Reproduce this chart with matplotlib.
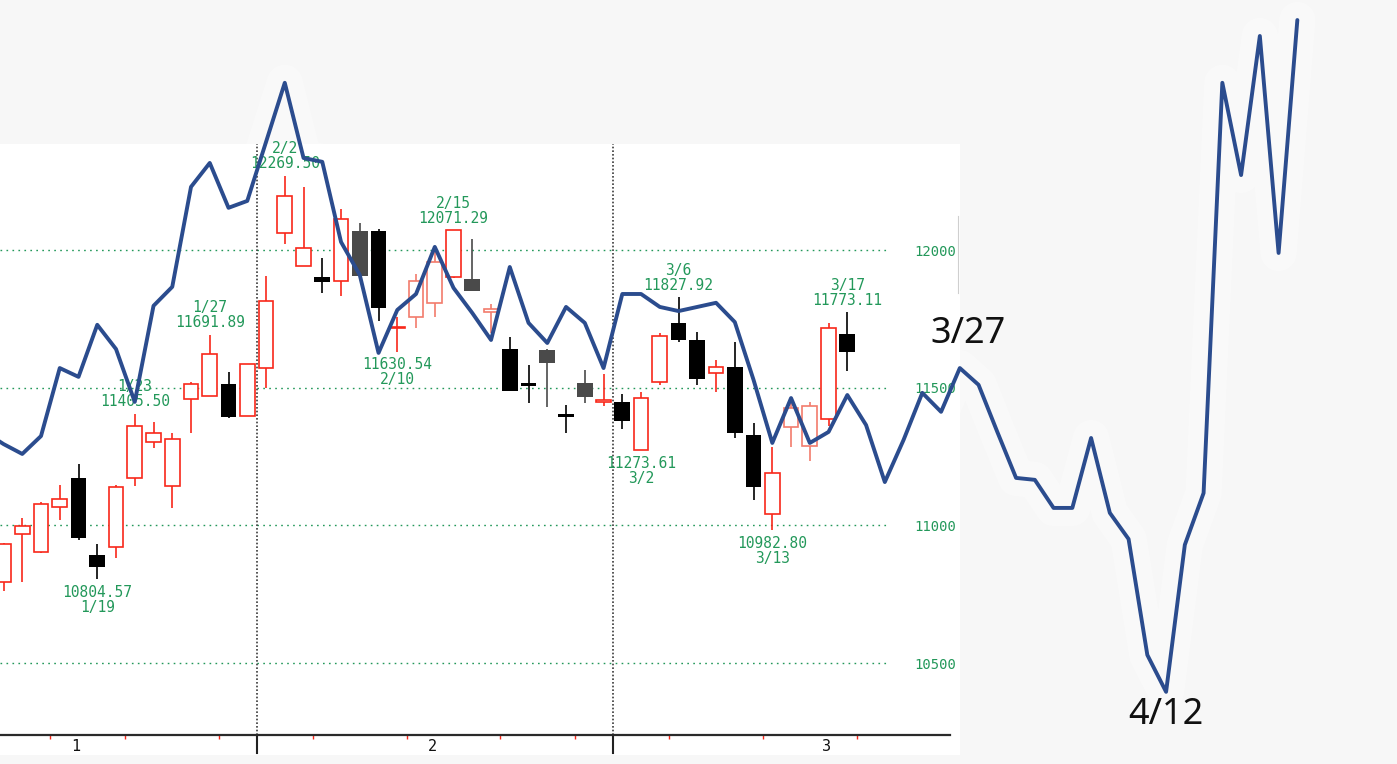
#!/usr/bin/env python

import matplotlib
matplotlib.use('Agg')
import matplotlib.pyplot as plt
from matplotlib.patches import Rectangle
from matplotlib.lines import Line2D
import numpy as np
import pandas as pd

# trading days shown on the candle chart (1/16 and 2/20 are market holidays)
dates = pd.bdate_range('2006-01-11', '2006-03-17').drop(
    pd.to_datetime(['2006-01-16', '2006-02-20']))

opens = [10794, 10968, 10903, 11067, 11172, 10892, 10921, 11172, 11303, 11143,
         11459, 11470, 11513, 11397, 11571, 12062, 11942, 11902, 11887, 12069,
         12069, 11717, 11757, 11808, 11902, 11895, 11775, 11640, 11517, 11637,
         11404, 11517, 11448, 11448, 11273.61, 11521, 11735, 11673, 11553, 11575,
         11328, 11041, 11357, 11288, 11386, 11695]
highs = [10935, 11027, 11085, 11146, 11223, 10932, 11146, 11405.50, 11375, 11335,
         11521, 11691.89, 11557, 11586, 11906, 12269.50, 12229, 11971, 12149, 12098,
         12076, 11757, 11913, 12000, 12071.29, 12040, 11804, 11684, 11582, 11640,
         11437, 11564, 11550, 11477, 11484, 11699, 11827.92, 11702, 11600, 11666,
         11372, 11284, 11466, 11448, 11735, 11773.11]
lows = [10761, 10794, 10899, 11019, 10947, 10804.57, 10881, 11143, 11281, 11063,
        11335, 11470, 11390, 11397, 11499, 12022, 11942, 11844, 11833, 11906,
        11742, 11630.54, 11717, 11757, 11898, 11851, 11699, 11488, 11444, 11430,
        11335, 11444, 11433, 11350, 11273.61, 11510, 11666, 11510, 11484, 11317,
        11092, 10982.80, 11284, 11234, 11361, 11561]
closes = [10932, 10998, 11077, 11096, 10954, 10849, 11139, 11361, 11335, 11314,
          11513, 11622, 11393, 11586, 11815, 12196, 12007, 11884, 12113, 11906,
          11789, 11720, 11887, 11956, 12071, 11851, 11786, 11488, 11506, 11590,
          11393, 11466, 11455, 11379, 11462, 11688, 11673, 11531, 11575, 11335,
          11139, 11190, 11426, 11433, 11717, 11630]

# hand drawn line, one point per trading day, starting one day before dates[0]
line_vals = [11339, 11295, 11259, 11324, 11571, 11539, 11728, 11640, 11448, 11797, 11866,
             12229, 12316, 12153, 12178, 12392, 12607, 12334, 12320, 12029, 11909,
             11626, 11782, 11840, 12011, 11862, 11771, 11673, 11938, 11735, 11662,
             11793, 11735, 11571, 11840, 11840, 11793, 11778, 11793, 11808, 11738,
             11528, 11299, 11462, 11299, 11339, 11473, 11364, 11157, 11310, 11481,
             11412, 11571, 11510, 11339, 11172, 11165, 11063, 11063, 11317, 11045,
             10950, 10529, 10395, 10929, 11117, 12607, 12272, 12777, 11989, 12835]

high_marks = [7, 11, 15, 24, 36, 45]
low_marks = [5, 21, 34, 41]
month_labels = ['1', '2', '3']
y_ticks = [10500, 11000, 11500, 12000]
forecast_days = [51, 62]
forecast_labels = ['3/27', '4/12']

GREEN = '#23985a'
RED = '#f8281a'
BLUE = '#2b4c8e'

# screenshot geometry
W, H = 1397, 764
X0, DX = 3.5, 18.75       # px of first candle, px per trading day
Y0, DY = 250.0, 0.2753    # px of the 12000 line, px per point


def px_x(px):
    return (px - X0) / DX


def px_y(py):
    return 12000 - (py - Y0) / DY


def frect(left, top, right, bottom):
    return [left / W, 1 - bottom / H, (right - left) / W, (bottom - top) / H]


fig = plt.figure(figsize=(13.971, 7.641), dpi=100)
fig.patch.set_facecolor('#f7f7f7')

idx = np.arange(len(opens))
line_idx = np.arange(-1, len(line_vals) - 1)

# faint smudge around the drawn line
hax = fig.add_axes([0, 0, 1, 1], zorder=0)
hax.patch.set_visible(False)
hax.axis('off')
hax.set_xlim(px_x(0), px_x(W))
hax.set_ylim(px_y(H), px_y(0))
hax.plot(line_idx, line_vals, color='white', lw=26, alpha=0.3,
         solid_capstyle='round', solid_joinstyle='round')

# white chart panel
fig.add_artist(Rectangle((0, 1 - 755 / H), 960 / W, (755 - 144) / H,
                         transform=fig.transFigure, facecolor='white',
                         edgecolor='none', zorder=1))
fig.add_artist(Line2D([958 / W] * 2, [1 - 216 / H, 1 - 293 / H],
                      color='#cfcfcf', lw=0.8, zorder=1))

ax = fig.add_axes(frect(0, 144, 960, 735), zorder=2)
ax.patch.set_visible(False)
ax.set_xlim(px_x(0), px_x(960))
ax.set_ylim(px_y(735), px_y(144))

ax.hlines(y_ticks, px_x(0), px_x(886), colors=GREEN, linewidth=1,
          linestyles=(0, (1.2, 3.1)), zorder=1)

faded = {22, 23, 26, 42, 43}
greyish = {19, 25, 29, 31}
for i in idx:
    o, h, l, c = opens[i], highs[i], lows[i], closes[i]
    if c >= o:
        col = '#f27c6c' if i in faded else RED
        ax.vlines(i, l, h, color=col, lw=1.2, zorder=2)
        ax.bar(i, max(c - o, 1), bottom=o, width=0.78, facecolor='white',
               edgecolor=col, linewidth=1.2, zorder=3)
    else:
        col = '#4a4a4a' if i in greyish else 'black'
        ax.vlines(i, l, h, color=col, lw=1.2, zorder=2)
        ax.bar(i, o - c, bottom=c, width=0.84, color=col, zorder=3)

month_starts = [i for i in range(1, len(dates)) if dates[i].month != dates[i - 1].month]
week_starts = [i for i in range(1, len(dates)) if dates[i].weekday() <= dates[i - 1].weekday()]
week_starts.append(len(dates))  # next monday after the last candle

for m in month_starts:
    ax.axvline(m - 0.5, color='#3a3a3a', lw=1.2, ls=(0, (1, 1.2)), zorder=1)
    ax.plot([m - 0.5] * 2, [px_y(735), px_y(753)], color='#222222', lw=1.5,
            clip_on=False)

for s in ['top', 'left', 'right']:
    ax.spines[s].set_visible(False)
ax.spines['bottom'].set_color('#2a2a2a')
ax.spines['bottom'].set_linewidth(1.6)
ax.spines['bottom'].set_bounds(px_x(0), px_x(950))

ax.set_xticks([3.87, 22.9, 43.9], month_labels)
ax.set_xticks([w - 0.5 for w in week_starts], minor=True)
ax.tick_params(axis='x', which='major', length=0, pad=2.5, labelsize=11,
               labelcolor='#111111', labelfontfamily='DejaVu Sans Mono')
ax.tick_params(axis='x', which='minor', color=RED, length=3, width=1,
               direction='out')

ax.set_yticks(y_ticks)
ax.tick_params(axis='y', left=False, right=False, labelleft=False,
               labelright=True, pad=-6.5, labelsize=10, labelcolor=GREEN,
               labelfontfamily='DejaVu Sans Mono')
for t in ax.get_yticklabels():
    t.set_horizontalalignment('right')

lab = dict(textcoords='offset pixels', ha='center', va='center', color=GREEN,
           fontsize=10.5, family='DejaVu Sans Mono', zorder=4,
           annotation_clip=False)
for i in high_marks:
    d = dates[i]
    ax.annotate(f'{highs[i]:.2f}', (i, highs[i]), xytext=(0, 12), **lab)
    ax.annotate(f'{d.month}/{d.day}', (i, highs[i]), xytext=(0, 27), **lab)
for i in low_marks:
    d = dates[i]
    ax.annotate(f'{lows[i]:.2f}', (i, lows[i]), xytext=(0, -13), **lab)
    ax.annotate(f'{d.month}/{d.day}', (i, lows[i]), xytext=(0, -28), **lab)

# drawn line over everything
lax = fig.add_axes([0, 0, 1, 1], zorder=3)
lax.patch.set_visible(False)
lax.axis('off')
lax.set_xlim(px_x(0), px_x(W))
lax.set_ylim(px_y(H), px_y(0))
lax.plot(line_idx, line_vals, color=BLUE, lw=2.8,
         solid_joinstyle='round', solid_capstyle='round')

for day, txt, off in zip(forecast_days, forecast_labels, [(8, 34), (0, -23)]):
    lax.annotate(txt, (day, line_vals[day + 1]), xytext=off,
                 textcoords='offset pixels', ha='center', va='center',
                 fontsize=26, family='Noto Sans', color='#111111')

fig.savefig('out.png', dpi=100, facecolor=fig.get_facecolor())
